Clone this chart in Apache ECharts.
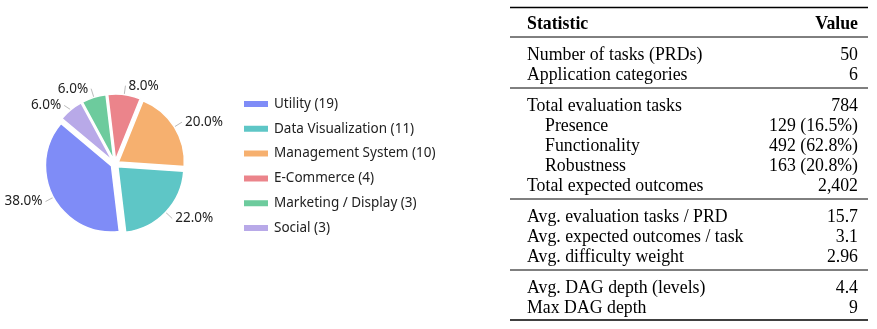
<!DOCTYPE html>
<html>
<head>
<meta charset="utf-8">
<script src="https://cdn.jsdelivr.net/npm/echarts@6/dist/echarts.min.js"></script>
<style>html,body{margin:0;padding:0;background:#fff;}</style>
</head>
<body>
<div id="main" style="width:877px;height:329px;"></div>
<script>
// pie data
const categories = ['Utility', 'Data Visualization', 'Management System', 'E-Commerce', 'Marketing / Display', 'Social'];
const counts = [19, 11, 10, 4, 3, 3];
const colors = ['#7f8cf7', '#5ec6c6', '#f6b06f', '#eb848b', '#6dcb9d', '#b8a9e8'];

// table data
const headerCols = ['Statistic', 'Value'];
const statNames = [
  'Number of tasks (PRDs)', 'Application categories',
  'Total evaluation tasks', 'Presence', 'Functionality', 'Robustness', 'Total expected outcomes',
  'Avg. evaluation tasks / PRD', 'Avg. expected outcomes / task', 'Avg. difficulty weight',
  'Avg. DAG depth (levels)', 'Max DAG depth'
];
const statValues = [
  '50', '6',
  '784', '129 (16.5%)', '492 (62.8%)', '163 (20.8%)', '2,402',
  '15.7', '3.1', '2.96',
  '4.4', '9'
];
const statIndented = [0, 0, 0, 1, 1, 1, 0, 0, 0, 0, 0, 0];
const groupSizes = [2, 5, 3, 2];

const handFont = '"Comic Sans MS", "Noto Sans", sans-serif';
const serif = '"Liberation Serif", "Times New Roman", serif';

let myChart = echarts.init(document.getElementById('main'));

// build the table with graphic elements
const tLeft = 510, tRight = 868, textLeft = 527, textRight = 858;
const rowStep = 20;
let graphics = [];
function rule (y, w) {
  graphics.push({
    type: 'line',
    shape: { x1: tLeft, y1: y, x2: tRight, y2: y },
    style: { stroke: '#000', lineWidth: w }
  });
}
function cell (txt, x, y, align, bold) {
  graphics.push({
    type: 'text',
    x: x, y: y + 2.5, // serif glyphs sit a bit high with 'middle'
    style: {
      text: txt, fill: '#000', font: (bold ? 'bold ' : '') + '17.8px ' + serif,
      textAlign: align, textVerticalAlign: 'middle'
    }
  });
}
rule(7.5, 1.6);
cell(headerCols[0], textLeft, 22, 'left', true);
cell(headerCols[1], textRight, 22, 'right', true);
let y = 37;
rule(y, 1);
let idx = 0;
groupSizes.forEach((n, g) => {
  y += 16;
  for (let i = 0; i < n; i++) {
    const ry = y + i * rowStep;
    cell(statNames[idx], textLeft + (statIndented[idx] ? 18 : 0), ry, 'left', false);
    cell(statValues[idx], textRight, ry, 'right', false);
    idx++;
  }
  y += (n - 1) * rowStep + 15;
  const last = g === groupSizes.length - 1;
  rule(last ? y - 1 : y, last ? 1.6 : 1);
});

let option = {
  backgroundColor: '#fff',
  animation: false,
  color: colors,
  legend: {
    orient: 'vertical',
    left: 237,
    top: 92,
    icon: 'rect',
    itemWidth: 26,
    itemHeight: 8,
    itemGap: 10.8,
    data: categories,
    formatter: function (name) {
      return name + ' (' + counts[categories.indexOf(name)] + ')';
    },
    textStyle: {
      fontFamily: handFont,
      fontSize: 13.5,
      color: '#222',
      lineHeight: 14
    },
    selectedMode: false
  },
  series: [{
    type: 'pie',
    center: [115, 164],
    radius: 66,
    clockwise: false,
    startAngle: 140,
    selectedMode: 'multiple',
    selectedOffset: 4,
    data: categories.map((c, i) => ({ name: c, value: counts[i], selected: true })),
    itemStyle: {
      borderColor: '#fff',
      borderWidth: 1.5
    },
    label: {
      show: true,
      position: 'outside',
      overflow: 'none',
      fontFamily: handFont,
      fontSize: 13.5,
      color: '#222',
      distanceToLabelLine: 3,
      formatter: function (p) {
        return p.percent.toFixed(1) + '%';
      }
    },
    labelLine: {
      show: true,
      length: 9,
      length2: 0,
      lineStyle: { color: '#bbb', width: 1 }
    },
    emphasis: { disabled: true }
  }],
  graphic: graphics
};
myChart.setOption(option);
</script>
</body>
</html>
